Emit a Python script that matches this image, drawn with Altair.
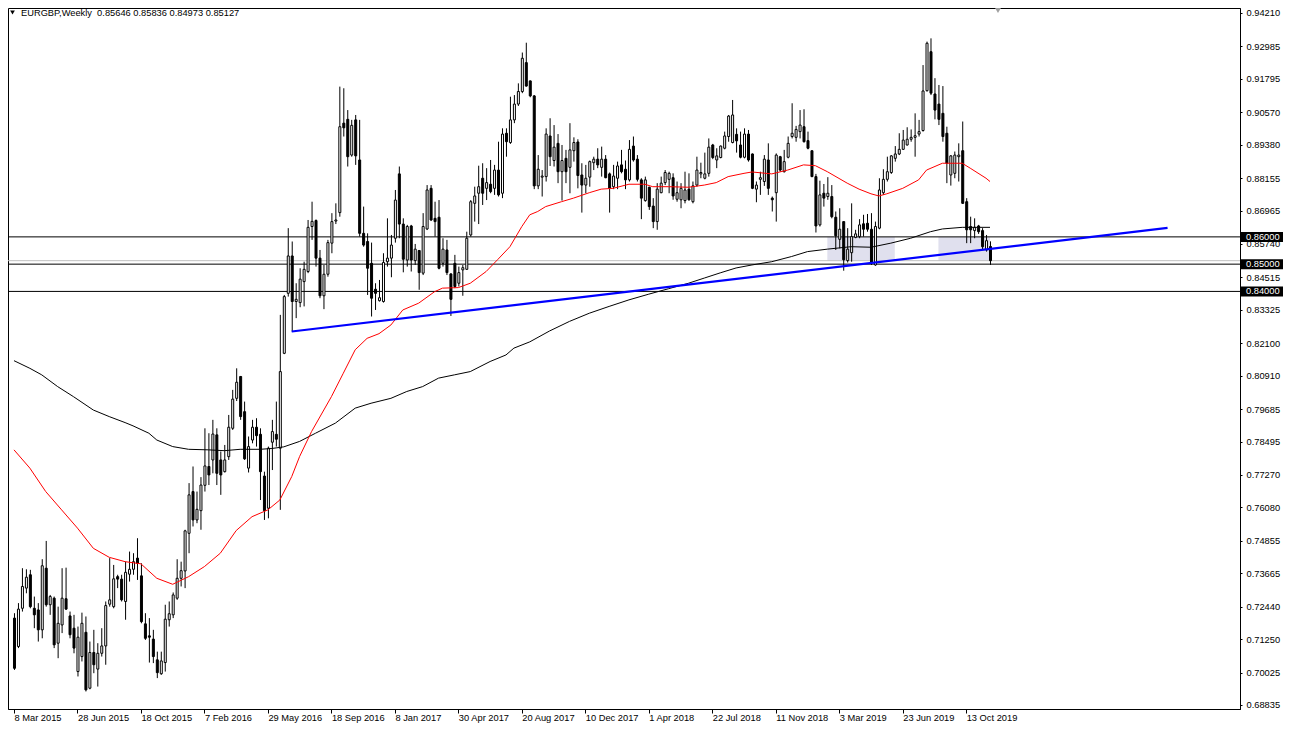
import altair as alt
import pandas as pd

# ---------------- data (EURGBP weekly) ----------------
opens = [
    0.7202, 0.7098, 0.7238, 0.7312, 0.7361, 0.7238, 0.7232, 0.7159, 0.7385, 0.7251,
    0.7275, 0.7110, 0.7177, 0.7273, 0.7210, 0.7165, 0.7006, 0.7061, 0.7150, 0.6945,
    0.7076, 0.7015, 0.7073, 0.7100, 0.7253, 0.7244, 0.7354, 0.7345, 0.7263, 0.7363,
    0.7381, 0.7422, 0.7357, 0.7181, 0.7137, 0.7125, 0.7049, 0.6998, 0.7039, 0.7196,
    0.7214, 0.7275, 0.7348, 0.7375, 0.7513, 0.7666, 0.7562, 0.7596, 0.7689, 0.7758,
    0.7782, 0.7874, 0.7782, 0.7739, 0.7794, 0.7898, 0.8008, 0.8088, 0.7959, 0.7752,
    0.7855, 0.7902, 0.7876, 0.7723, 0.7605, 0.7847, 0.7876, 0.7825, 0.8173, 0.8393,
    0.8530, 0.8363, 0.8359, 0.8436, 0.8473, 0.8638, 0.8660, 0.8522, 0.8384, 0.8463,
    0.8577, 0.8658, 0.8689, 0.9017, 0.9031, 0.8900, 0.9029, 0.8882, 0.8613, 0.8583,
    0.8503, 0.8408, 0.8366, 0.8363, 0.8509, 0.8522, 0.8595, 0.8831, 0.8647, 0.8515,
    0.8640, 0.8513, 0.8550, 0.8467, 0.8629, 0.8778, 0.8668, 0.8672, 0.8503, 0.8552,
    0.8464, 0.8503, 0.8430, 0.8479, 0.8481, 0.8607, 0.8723, 0.8760, 0.8815, 0.8778,
    0.8793, 0.8778, 0.8845, 0.8760, 0.8980, 0.8946, 0.9029, 0.9087, 0.9133, 0.9239,
    0.9172, 0.9117, 0.8787, 0.8819, 0.8821, 0.8970, 0.8880, 0.8943, 0.8839, 0.8888,
    0.8855, 0.8916, 0.8948, 0.8827, 0.8790, 0.8819, 0.8872, 0.8885, 0.8855, 0.8885,
    0.8831, 0.8784, 0.8815, 0.8864, 0.8848, 0.8809, 0.8933, 0.8885, 0.8809, 0.8733,
    0.8782, 0.8713, 0.8656, 0.8762, 0.8799, 0.8811, 0.8817, 0.8738, 0.8736, 0.8733,
    0.8775, 0.8729, 0.8790, 0.8831, 0.8815, 0.8833, 0.8937, 0.8882, 0.8891, 0.8925,
    0.8968, 0.8946, 0.8976, 0.8937, 0.8892, 0.8977, 0.8904, 0.8775, 0.8811, 0.8803,
    0.8882, 0.8742, 0.8762, 0.8894, 0.8839, 0.8892, 0.8968, 0.8965, 0.8986, 0.9004,
    0.8953, 0.8916, 0.8821, 0.8644, 0.8760, 0.8748, 0.8748, 0.8672, 0.8591, 0.8656,
    0.8513, 0.8542, 0.8598, 0.8601, 0.8648, 0.8650, 0.8628, 0.8497, 0.8632, 0.8762,
    0.8811, 0.8836, 0.8888, 0.8904, 0.8921, 0.8937, 0.8958, 0.8965, 0.8977, 0.8990,
    0.9136, 0.9279, 0.9124, 0.9087, 0.9053, 0.8980, 0.8827, 0.8833, 0.8894, 0.8916,
    0.8729, 0.8638, 0.8623, 0.8640, 0.8623, 0.8552, 0.85646,
]
highs = [
    0.7220, 0.7257, 0.7385, 0.7381, 0.7379, 0.7281, 0.7257, 0.7418, 0.7485, 0.7287,
    0.7281, 0.7244, 0.7385, 0.7387, 0.7226, 0.7214, 0.7171, 0.7222, 0.7208, 0.7116,
    0.7159, 0.7110, 0.7165, 0.7263, 0.7422, 0.7397, 0.7361, 0.7361, 0.7409, 0.7446,
    0.7440, 0.7495, 0.7403, 0.7220, 0.7202, 0.7159, 0.7079, 0.7079, 0.7251, 0.7263,
    0.7296, 0.7418, 0.7409, 0.7526, 0.7697, 0.7758, 0.7666, 0.7719, 0.7898, 0.7880,
    0.7929, 0.7898, 0.7813, 0.7837, 0.7947, 0.8039, 0.8118, 0.8090, 0.7996, 0.7868,
    0.7929, 0.7935, 0.7898, 0.7739, 0.7831, 0.7929, 0.7996, 0.8314, 0.8387, 0.8632,
    0.8583, 0.8430, 0.8485, 0.8509, 0.8662, 0.8729, 0.8664, 0.8552, 0.8497, 0.8589,
    0.8687, 0.8723, 0.9151, 0.9145, 0.9065, 0.9029, 0.9047, 0.9029, 0.8711, 0.8613,
    0.8579, 0.8430, 0.8442, 0.8540, 0.8668, 0.8607, 0.8772, 0.8858, 0.8668, 0.8644,
    0.8644, 0.8574, 0.8552, 0.8687, 0.8790, 0.8790, 0.8729, 0.8735, 0.8595, 0.8589,
    0.8467, 0.8534, 0.8491, 0.8497, 0.8619, 0.8735, 0.8784, 0.8861, 0.8870, 0.8852,
    0.8882, 0.8864, 0.8949, 0.8998, 0.8998, 0.9114, 0.9120, 0.9163, 0.9276, 0.9312,
    0.9173, 0.9120, 0.8900, 0.8845, 0.8998, 0.9035, 0.9010, 0.8977, 0.8937, 0.8919,
    0.9017, 0.8965, 0.8958, 0.8870, 0.8864, 0.8880, 0.8894, 0.8925, 0.8931, 0.8900,
    0.8836, 0.8864, 0.8876, 0.8919, 0.8880, 0.8955, 0.8968, 0.8900, 0.8815, 0.8821,
    0.8784, 0.8742, 0.8797, 0.8821, 0.8845, 0.8839, 0.8833, 0.8803, 0.8797, 0.8839,
    0.8833, 0.8803, 0.8894, 0.8872, 0.8909, 0.8961, 0.8941, 0.8925, 0.8935, 0.8986,
    0.9047, 0.9102, 0.8998, 0.8986, 0.8998, 0.8992, 0.8906, 0.8803, 0.8839, 0.8900,
    0.8943, 0.8748, 0.8906, 0.8897, 0.8919, 0.8968, 0.9090, 0.9007, 0.9065, 0.9068,
    0.8986, 0.8916, 0.8831, 0.8806, 0.8794, 0.8819, 0.8790, 0.8693, 0.8705, 0.8656,
    0.8632, 0.8723, 0.8626, 0.8665, 0.8681, 0.8684, 0.8687, 0.8656, 0.8815, 0.8848,
    0.8894, 0.8900, 0.8933, 0.8980, 0.8992, 0.9002, 0.8994, 0.9053, 0.9029, 0.9230,
    0.9316, 0.9328, 0.9182, 0.9157, 0.9153, 0.9004, 0.8900, 0.8913, 0.8943, 0.9023,
    0.8742, 0.8674, 0.8668, 0.8644, 0.8632, 0.8607, 0.85836,
]
lows = [
    0.7012, 0.7092, 0.7226, 0.7293, 0.7238, 0.7165, 0.7116, 0.7128, 0.7244, 0.7214,
    0.7092, 0.7055, 0.7147, 0.7232, 0.7128, 0.7073, 0.6988, 0.7043, 0.6933, 0.6941,
    0.7000, 0.6951, 0.7061, 0.7031, 0.7244, 0.7238, 0.7312, 0.7263, 0.7196, 0.7336,
    0.7361, 0.7342, 0.7183, 0.7122, 0.7039, 0.7037, 0.6982, 0.6994, 0.7006, 0.7171,
    0.7202, 0.7269, 0.7318, 0.7312, 0.7440, 0.7538, 0.7550, 0.7526, 0.7666, 0.7690,
    0.7733, 0.7690, 0.7654, 0.7736, 0.7782, 0.7892, 0.7998, 0.7929, 0.7782, 0.7736,
    0.7843, 0.7831, 0.7635, 0.7562, 0.7568, 0.7745, 0.7831, 0.7599, 0.8170, 0.8381,
    0.8253, 0.8302, 0.8342, 0.8345, 0.8467, 0.8589, 0.8491, 0.8375, 0.8335, 0.8454,
    0.8540, 0.8647, 0.8674, 0.8968, 0.8858, 0.8894, 0.8864, 0.8601, 0.8564, 0.8387,
    0.8308, 0.8332, 0.8363, 0.8359, 0.8491, 0.8452, 0.8579, 0.8595, 0.8470, 0.8491,
    0.8473, 0.8497, 0.8406, 0.8460, 0.8625, 0.8658, 0.8601, 0.8481, 0.8491, 0.8460,
    0.8310, 0.8412, 0.8418, 0.8384, 0.8479, 0.8601, 0.8656, 0.8647, 0.8717, 0.8735,
    0.8760, 0.8754, 0.8748, 0.8742, 0.8894, 0.8941, 0.9017, 0.9080, 0.9127, 0.9151,
    0.9112, 0.8775, 0.8775, 0.8748, 0.8803, 0.8860, 0.8858, 0.8797, 0.8733, 0.8797,
    0.8760, 0.8876, 0.8778, 0.8689, 0.8760, 0.8784, 0.8845, 0.8852, 0.8821, 0.8815,
    0.8689, 0.8775, 0.8775, 0.8833, 0.8775, 0.8803, 0.8876, 0.8803, 0.8665, 0.8729,
    0.8699, 0.8632, 0.8626, 0.8760, 0.8790, 0.8760, 0.8736, 0.8729, 0.8705, 0.8723,
    0.8733, 0.8723, 0.8784, 0.8815, 0.8811, 0.8821, 0.8885, 0.8852, 0.8888, 0.8921,
    0.8949, 0.8943, 0.8909, 0.8888, 0.8888, 0.8876, 0.8775, 0.8727, 0.8754, 0.8787,
    0.8754, 0.8693, 0.8656, 0.8839, 0.8836, 0.8888, 0.8961, 0.8949, 0.8961, 0.8946,
    0.8921, 0.8819, 0.8616, 0.8638, 0.8711, 0.8736, 0.8668, 0.8552, 0.8558, 0.8476,
    0.8506, 0.8509, 0.8595, 0.8595, 0.8601, 0.8619, 0.8497, 0.8494, 0.8628, 0.8754,
    0.8803, 0.8831, 0.8876, 0.8900, 0.8919, 0.8935, 0.8949, 0.8894, 0.8968, 0.8986,
    0.9133, 0.9120, 0.9031, 0.9010, 0.8949, 0.8797, 0.8788, 0.8815, 0.8803, 0.8721,
    0.8577, 0.8577, 0.8595, 0.8611, 0.8552, 0.8546, 0.84973,
]
closes = [
    0.7018, 0.7235, 0.7318, 0.7352, 0.7244, 0.7214, 0.7159, 0.7394, 0.7251, 0.7281,
    0.7104, 0.7183, 0.7275, 0.7235, 0.7141, 0.7092, 0.7132, 0.7183, 0.6939, 0.7076,
    0.7031, 0.7073, 0.7100, 0.7248, 0.7269, 0.7346, 0.7345, 0.7269, 0.7370, 0.7381,
    0.7409, 0.7403, 0.7189, 0.7128, 0.7132, 0.7061, 0.7002, 0.7045, 0.7198, 0.7218,
    0.7287, 0.7348, 0.7376, 0.7522, 0.7654, 0.7562, 0.7601, 0.7690, 0.7760, 0.7727,
    0.7877, 0.7733, 0.7727, 0.7782, 0.7902, 0.8005, 0.8067, 0.7941, 0.7786, 0.7831,
    0.7902, 0.7871, 0.7739, 0.7596, 0.7825, 0.7886, 0.7858, 0.8106, 0.8381, 0.8530,
    0.8363, 0.8371, 0.8445, 0.8481, 0.8635, 0.8657, 0.8522, 0.8384, 0.8463, 0.8579,
    0.8656, 0.8662, 0.9004, 0.9000, 0.8894, 0.9009, 0.8897, 0.8613, 0.8570, 0.8485,
    0.8375, 0.8393, 0.8377, 0.8506, 0.8522, 0.8570, 0.8735, 0.8647, 0.8518, 0.8638,
    0.8515, 0.8555, 0.8469, 0.8638, 0.8772, 0.8662, 0.8656, 0.8485, 0.8555, 0.8469,
    0.8371, 0.8418, 0.8469, 0.8487, 0.8595, 0.8729, 0.8750, 0.8784, 0.8760, 0.8799,
    0.8766, 0.8845, 0.8754, 0.8977, 0.8949, 0.9029, 0.9087, 0.9133, 0.9255, 0.9153,
    0.9117, 0.8787, 0.8848, 0.8823, 0.8977, 0.8894, 0.8929, 0.8839, 0.8880, 0.8839,
    0.8919, 0.8946, 0.8825, 0.8790, 0.8815, 0.8876, 0.8885, 0.8864, 0.8885, 0.8817,
    0.8778, 0.8823, 0.8860, 0.8839, 0.8809, 0.8921, 0.8882, 0.8811, 0.8742, 0.8809,
    0.8711, 0.8656, 0.8775, 0.8797, 0.8836, 0.8833, 0.8750, 0.8762, 0.8778, 0.8772,
    0.8736, 0.8787, 0.8845, 0.8836, 0.8831, 0.8929, 0.8891, 0.8897, 0.8933, 0.8970,
    0.9043, 0.9047, 0.8952, 0.8892, 0.8977, 0.8882, 0.8778, 0.8790, 0.8817, 0.8885,
    0.8778, 0.8736, 0.8900, 0.8845, 0.8876, 0.8943, 0.8980, 0.8994, 0.9010, 0.8949,
    0.8925, 0.8821, 0.8640, 0.8754, 0.8742, 0.8760, 0.8674, 0.8604, 0.8628, 0.8516,
    0.8555, 0.8601, 0.8611, 0.8644, 0.8628, 0.8628, 0.8506, 0.8638, 0.8772, 0.8811,
    0.8839, 0.8897, 0.8904, 0.8921, 0.8955, 0.8958, 0.8965, 0.8971, 0.8986, 0.9135,
    0.9310, 0.9127, 0.9065, 0.9031, 0.8968, 0.8870, 0.8897, 0.8900, 0.8900, 0.8723,
    0.8626, 0.8626, 0.8635, 0.8619, 0.8564, 0.8586, 0.85127,
]

# moving averages
red_ma_weeks = [0, 4, 8, 12, 16, 20, 24, 28, 32, 36, 40, 44, 48, 52, 56, 60, 64, 67, 70, 72,
                75, 80, 83, 86, 89, 92, 95, 98, 102, 106, 108, 112, 115, 119, 122, 125, 128,
                130, 132, 134, 138, 141, 145, 148, 151, 155, 159, 161, 165, 170, 174, 177, 180,
                184, 186, 191, 195, 199, 202, 205, 210, 213, 216, 218, 220, 224, 228, 230, 234,
                239, 241, 245, 246]
red_ma_values = [0.7819, 0.7752, 0.7666, 0.7599, 0.7532, 0.7458, 0.7425, 0.7409, 0.7401, 0.7348,
                 0.7326, 0.7354, 0.7391, 0.7440, 0.7523, 0.7574, 0.7599, 0.7635, 0.7721, 0.7795,
                 0.7886, 0.8014, 0.8100, 0.8186, 0.8228, 0.8245, 0.8277, 0.8332, 0.8357, 0.8399,
                 0.8412, 0.8414, 0.8430, 0.8473, 0.8518, 0.8564, 0.8638, 0.8681, 0.8693, 0.8711,
                 0.8729, 0.8742, 0.8762, 0.8775, 0.8778, 0.8793, 0.8793, 0.8784, 0.8784, 0.8782,
                 0.8790, 0.8799, 0.8821, 0.8833, 0.8838, 0.8831, 0.8845, 0.8864, 0.8861, 0.8839,
                 0.8797, 0.8775, 0.8758, 0.8750, 0.8758, 0.8778, 0.8809, 0.8845, 0.8870, 0.8870,
                 0.8852, 0.8815, 0.8803]
black_ma_weeks = [0, 4, 7, 11, 15, 20, 24, 28, 30, 34, 36, 40, 44, 49, 53, 57, 62, 65, 68, 72,
                  76, 81, 86, 90, 95, 99, 103, 107, 111, 115, 120, 124, 126, 130, 135, 140, 145,
                  150, 155, 160, 165, 170, 174, 178, 182, 186, 191, 196, 200, 205, 211, 216, 221,
                  226, 231, 234, 239, 246]
black_ma_values = [0.8146, 0.8118, 0.8094, 0.8051, 0.8014, 0.7965, 0.7941, 0.7919, 0.7907, 0.7880,
                   0.7855, 0.7831, 0.7821, 0.7819, 0.7816, 0.7821, 0.7821, 0.7824, 0.7830, 0.7850,
                   0.7880, 0.7917, 0.7972, 0.7990, 0.8008, 0.8033, 0.8051, 0.8082, 0.8094, 0.8106,
                   0.8143, 0.8167, 0.8192, 0.8215, 0.8255, 0.8290, 0.8320, 0.8345, 0.8369, 0.8390,
                   0.8410, 0.8430, 0.8449, 0.8468, 0.8486, 0.8497, 0.8509, 0.8528, 0.8546, 0.8555,
                   0.8564, 0.8562, 0.8577, 0.8595, 0.8619, 0.8629, 0.8635, 0.8635]

trend_weeks = [70, 290.75]
trend_values = [0.8253, 0.8633]

level_values = [0.86, 0.85, 0.84]
level_labels = ["0.86000", "0.85000", "0.84000"]
bid_value = 0.85127

zone_start_weeks = [205, 233]
zone_end_weeks = [222, 246]
zone_top = [0.8600, 0.8600]
zone_bottom = [0.8512, 0.8512]

price_ticks = [0.94210, 0.92985, 0.91795, 0.90570, 0.89380, 0.88155, 0.86965, 0.85740,
               0.84515, 0.83325, 0.82100, 0.80910, 0.79685, 0.78495, 0.77270, 0.76080,
               0.74855, 0.73665, 0.72440, 0.71250, 0.70025, 0.68835]
date_ticks = [0, 16, 32, 48, 64, 80, 96, 112, 128, 144, 160, 176, 192, 208, 224, 240]
date_labels = ["8 Mar 2015", "28 Jun 2015", "18 Oct 2015", "7 Feb 2016", "29 May 2016",
               "18 Sep 2016", "8 Jan 2017", "30 Apr 2017", "20 Aug 2017", "10 Dec 2017",
               "1 Apr 2018", "22 Jul 2018", "11 Nov 2018", "3 Mar 2019", "23 Jun 2019",
               "13 Oct 2019"]
header_text = "EURGBP,Weekly\u00a0 0.85646 0.85836 0.84973 0.85127"

# ---------------- tables ----------------
candles = pd.DataFrame({"week": list(range(len(closes))), "open": opens, "high": highs,
                        "low": lows, "close": closes})
candles["dir"] = ["up" if c >= o else "down" for o, c in zip(opens, closes)]
red_df = pd.DataFrame({"week": red_ma_weeks, "v": red_ma_values})
black_df = pd.DataFrame({"week": black_ma_weeks, "v": black_ma_values})
trend_df = pd.DataFrame({"week": trend_weeks, "v": trend_values})
levels_df = pd.DataFrame({"level": level_values, "label": level_labels})
half_box = 5 / 2727.0
levels_df["top"] = levels_df["level"] + half_box
levels_df["bottom"] = levels_df["level"] - half_box
bid_df = pd.DataFrame({"level": [bid_value]})
zones_df = pd.DataFrame({"w1": zone_start_weeks, "w2": zone_end_weeks,
                         "top": zone_top, "bottom": zone_bottom})
header_df = pd.DataFrame({"t": [header_text]})

# ---------------- scales & axes ----------------
FONT = "Liberation Sans"
FS = 9.3
xs = alt.Scale(domain=[-0.25, 307.75], nice=False, zero=False)
ys = alt.Scale(domain=[0.68687, 0.94393], nice=False, zero=False)

label_expr = "[" + ",".join("'" + d + "'" for d in date_labels) + "][round(datum.value / 16)]"
x_axis = alt.Axis(values=date_ticks, labelExpr=label_expr, orient="bottom", title=None,
                  grid=False, tickSize=4, tickColor="black", domainColor="black",
                  labelAlign="left", labelBaseline="middle", labelPadding=4, labelOffset=0,
                  labelFont=FONT, labelFontSize=FS, labelColor="black", labelFlush=False,
                  labelBound=False, labelOverlap=False)
y_axis = alt.Axis(values=price_ticks, format=".5f", orient="right", title=None, grid=False,
                  tickSize=2, tickColor="black", domainColor="black", labelAlign="left",
                  labelBaseline="middle", labelPadding=4, labelFont=FONT, labelFontSize=FS,
                  labelColor="black", labelFlush=False, labelBound=False, labelOverlap=False)


def X(field):
    return alt.X(field, type="quantitative", scale=xs, axis=x_axis)


def Y(field):
    return alt.Y(field, type="quantitative", scale=ys, axis=y_axis)


zones = alt.Chart(zones_df).mark_rect(color="#e0e0ee").encode(
    x=X("w1"), x2="w2", y=Y("top"), y2="bottom")

wicks = alt.Chart(candles).mark_rule(color="black", strokeWidth=1, xOffset=0.5).encode(
    x=X("week"), y=Y("low"), y2="high")

bodies = alt.Chart(candles).mark_bar(width=2, stroke="black", strokeWidth=1, xOffset=0.5).encode(
    x=X("week"), y=Y("open"), y2="close",
    fill=alt.Fill("dir:N", scale=alt.Scale(domain=["up", "down"], range=["white", "black"]),
                  legend=None))

level_lines = alt.Chart(levels_df).mark_rule(color="black", strokeWidth=1).encode(y=Y("level"))
bid_line = alt.Chart(bid_df).mark_rule(color="#c0c0c0", strokeWidth=1).encode(y=Y("level"))

black_ma = alt.Chart(black_df).mark_line(color="black", strokeWidth=1).encode(
    x=X("week"), y=Y("v"))
red_ma = alt.Chart(red_df).mark_line(color="#ff0000", strokeWidth=1).encode(
    x=X("week"), y=Y("v"))
trend = alt.Chart(trend_df).mark_line(color="#0000ff", strokeWidth=2.2).encode(
    x=X("week"), y=Y("v"))

label_boxes = alt.Chart(levels_df).mark_rect(color="black").encode(
    x=alt.value(1233), x2=alt.value(1275), y=Y("top"), y2="bottom")
label_texts = alt.Chart(levels_df).mark_text(
    color="white", align="left", baseline="middle", font=FONT, fontSize=FS).encode(
    x=alt.value(1238), y=Y("level"), text="label:N")

header = alt.Chart(header_df).mark_text(
    color="black", align="left", baseline="middle", font=FONT, fontSize=FS).encode(
    x=alt.value(13), y=alt.value(5), text="t:N")
header_glyph = alt.Chart(header_df).mark_point(
    shape="triangle-down", filled=True, color="black", size=22, opacity=1).encode(
    x=alt.value(4.5), y=alt.value(4.5))
shift_glyph = alt.Chart(header_df).mark_point(
    shape="triangle-down", filled=True, color="#a0a0a0", size=36, opacity=1).encode(
    x=alt.value(990), y=alt.value(2.5))

chart = alt.layer(
    zones, level_lines, bid_line, wicks, bodies, black_ma, red_ma, trend,
    label_boxes, label_texts, header, header_glyph, shift_glyph,
).properties(
    width=1232, height=701,
    autosize=alt.AutoSizeParams(type="none"),
    padding={"left": 0, "top": 0, "right": 44, "bottom": 14},
    background="white",
).configure_view(stroke="black", strokeWidth=1)

chart.save("out.html", embed_options={"renderer": "svg", "actions": False})
